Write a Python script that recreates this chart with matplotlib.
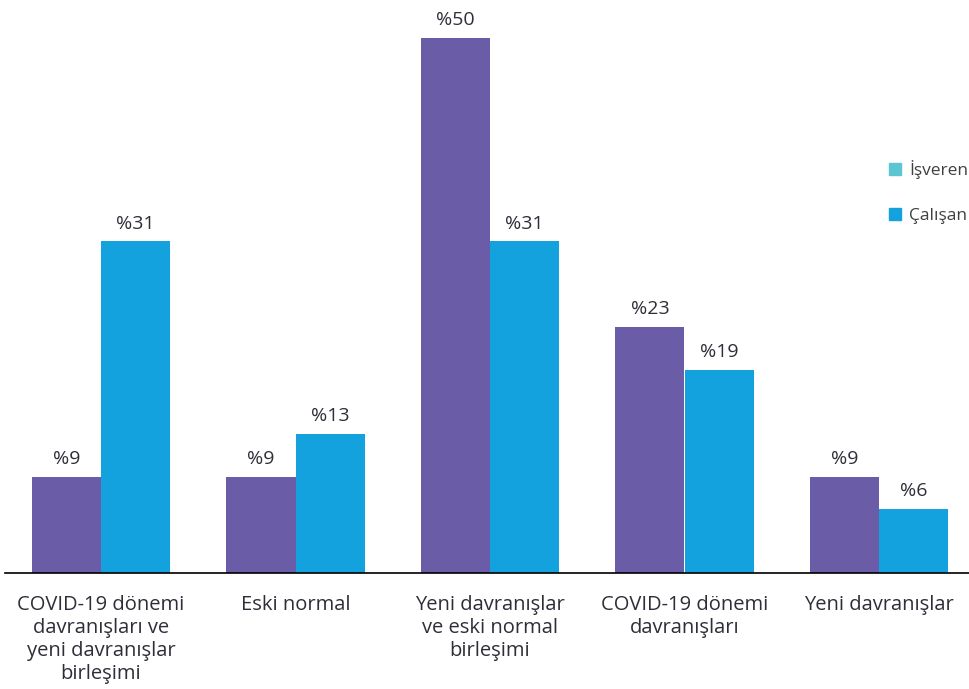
import matplotlib
matplotlib.use("Agg")
import matplotlib.pyplot as plt
import numpy as np
from matplotlib.lines import Line2D

# categories and values (percent)
categories = ['COVID-19 dönemi\ndavranışları ve\nyeni davranışlar\nbirleşimi',
              'Eski normal',
              'Yeni davranışlar\nve eski normal\nbirleşimi',
              'COVID-19 dönemi\ndavranışları',
              'Yeni davranışlar']
isveren = [9, 9, 50, 23, 9]
calisan = [31, 13, 31, 19, 6]

purple = '#6A5CA7'
blue = '#13A2DD'
teal = '#5BC6D2'
text_col = '#2E2E38'

plt.rcParams['font.family'] = ['Open Sans', 'DejaVu Sans']

fig = plt.figure(figsize=(9.7, 6.89), dpi=100)
# axes from x=5px to past the right edge, baseline at y=573px
ax = fig.add_axes([5/970, 116/689, 1.0, 573/689])

x = np.arange(len(categories))
w = 0.355
b1 = ax.bar(x - w/2, isveren, w, color=purple)
b2 = ax.bar(x + w/2, calisan, w, color=blue)

for bars, vals in ((b1, isveren), (b2, calisan)):
    for r, v in zip(bars, vals):
        ax.text(r.get_x() + r.get_width()/2, v + 0.8, '%' + str(v),
                ha='center', va='bottom', fontsize=14, color=text_col)

px = 194.5
ax.set_xlim(-96/px, -96/px + 970/px)
ax.set_ylim(0, 573/10.7)

ax.set_xticks(x)
ax.set_xticklabels(categories, fontsize=14.5, color=text_col, linespacing=1.2)
ax.tick_params(axis='x', length=0, pad=16)
ax.set_yticks([])
for s in ['top', 'right', 'left']:
    ax.spines[s].set_visible(False)
ax.spines['bottom'].set_color('black')
ax.spines['bottom'].set_linewidth(1.2)

handles = [Line2D([], [], marker='s', linestyle='', markersize=9, color=teal),
           Line2D([], [], marker='s', linestyle='', markersize=9, color=blue)]
fig.legend(handles, ['İşveren', 'Çalışan'], loc='upper left',
           bbox_to_anchor=(870/970, 1 - 144/689), frameon=False,
           fontsize=12.5, labelspacing=1.7, handletextpad=0.25, handlelength=1.1,
           labelcolor='#404040')

fig.savefig('out.png', dpi=100)
